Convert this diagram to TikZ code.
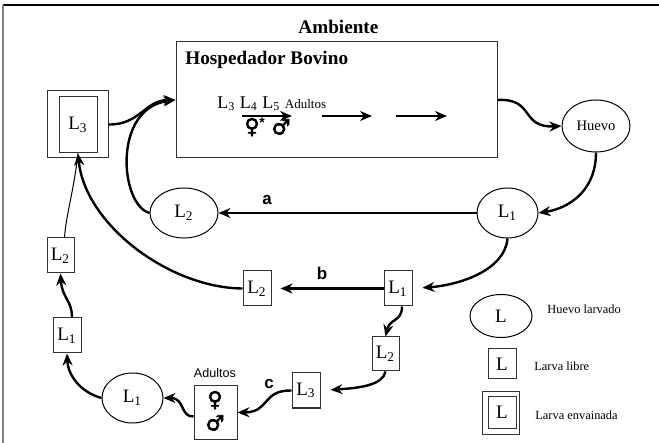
\documentclass[tikz,border=0pt]{standalone}
\usepackage{fontspec}
\setmainfont{Liberation Serif}
\setsansfont{Liberation Sans}
\newfontfamily\symfont[FakeBold=3]{DejaVu Sans}
\usetikzlibrary{shapes.geometric,arrows.meta}
\newcommand{\Lsub}[1]{L\textsubscript{#1}}

\begin{document}
\begin{tikzpicture}[x=0.5pt,y=-0.5pt,
	libre/.style={draw=black!80, line width=0.5pt, rectangle, inner sep=0pt, minimum width=14pt, minimum height=17.5pt, font=\fontsize{9.5}{9.5}\selectfont},
	envaina/.style={draw=black!80, line width=0.5pt, rectangle, inner sep=0pt},
	elipse/.style={draw, line width=0.5pt, ellipse, inner sep=0pt, minimum width=30.5pt, minimum height=25pt, font=\fontsize{9.5}{9.5}\selectfont},
	flecha/.style={line width=1.2pt, -{Stealth[length=6pt,width=5pt]}},
	letra/.style={inner sep=0pt, font=\sffamily\bfseries\fontsize{8.5}{8.5}\selectfont},
	leyenda/.style={anchor=base west, inner sep=0pt, font=\fontsize{6.2}{7}\selectfont},
	sexo/.style={inner sep=0pt, font=\symfont\fontsize{10.5}{10.5}\selectfont}]
	\useasboundingbox (0,0) rectangle (659,443);
	% marco
	\draw [line width=0.6pt] (3,5) -- (659,5);
	\draw [gray, line width=0.8pt] (3,5) -- (3,443);

	% hospedador
	\node (amb) [anchor=base west, inner sep=0pt, font=\bfseries\fontsize{9.6}{10}\selectfont] at (298,34) {Ambiente};
	\node (host) [envaina, minimum width=160.5pt, minimum height=58pt] at (336.5,100) {};
	\node (hosp) [anchor=base west, inner sep=0pt, font=\bfseries\fontsize{9.6}{10}\selectfont] at (185,65) {Hospedador Bovino};
	\node (fases) [anchor=base west, inner sep=0pt, font=\fontsize{9}{9}\selectfont] at (217,109) {\Lsub{3} \Lsub{4} \Lsub{5} {\fontsize{6.5}{7}\selectfont Adultos}};
	\node (hembra) [sexo] at (252,127) {♀};
	\node (ast) [inner sep=0pt, font=\sffamily\bfseries\fontsize{7}{7}\selectfont] at (262,123) {*};
	\node (macho) [sexo] at (281,127) {♂};
	\coordinate (f1) at (242,116);
	\coordinate (f2) at (292,116);
	\coordinate (f3) at (322,116);
	\coordinate (f4) at (372,116);
	\coordinate (f5) at (396,116);
	\coordinate (f6) at (447,116);
	\draw [flecha] (f1) -- (f2);
	\draw [flecha] (f3) -- (f4);
	\draw [flecha] (f5) -- (f6);

	% estadios
	\node (huevo) [elipse, minimum width=34pt, minimum height=26pt, font=\fontsize{7.3}{8}\selectfont] at (596,126) {Huevo};
	\node (l1a) [elipse] at (507.5,213) {\Lsub{1}};
	\node (l2a) [elipse, minimum width=34pt] at (184,213) {\Lsub{2}};
	\node (l3) [envaina, minimum width=30.5pt, minimum height=33.5pt] at (77.5,124.5) {};
	\node (l3in) [libre, minimum width=19pt, minimum height=28pt] at (78,125) {\Lsub{3}};
	\node (l1b) [libre] at (398,288.5) {\Lsub{1}};
	\node (l2b) [libre] at (257,288.5) {\Lsub{2}};
	\node (l2c) [libre, minimum width=13.5pt, minimum height=17pt] at (385.5,354) {\Lsub{2}};
	\node (l3c) [libre] at (306,390.5) {\Lsub{3}};
	\node (adul) [envaina, minimum width=21.5pt, minimum height=26.5pt] at (215.5,412.5) {};
	\node (tadul) [inner sep=0pt, font=\sffamily\fontsize{6.3}{7}\selectfont] at (215,373) {Adultos};
	\node (hembra2) [sexo] at (215,400) {♀};
	\node (macho2) [sexo] at (215,423) {♂};
	\node (l1c) [elipse] at (132.5,398) {\Lsub{1}};
	\node (l1d) [libre] at (67,335.5) {\Lsub{1}};
	\node (l2d) [libre, minimum width=13.5pt] at (60.5,255.5) {\Lsub{2}};

	% ciclo
	\draw [flecha] (host.east) .. controls (535,98) and (520,128) .. (huevo.west);
	\draw [flecha] (huevo.south) .. controls (596,190) and (570,208) .. (l1a.east);
	\draw [flecha] (l1a.west) -- (l2a.east);
	\node (a) [letra] at (267,200) {a};
	\draw [flecha] (l2a.west) .. controls (120,205) and (112,108) .. (host.west);
	\draw [flecha] (l3.east) .. controls (140,125) and (145,100) .. (host.west);
	\draw [flecha, shorten >=5pt] (l1a.south) .. controls (505,270) and (460,285) .. (l1b.east);
	\draw [flecha, shorten >=4.5pt] (l1b.west) -- (l2b.east);
	\node (b) [letra] at (322,273) {b};
	\draw [flecha] (l2b.west) .. controls (170,288) and (85,225) .. (l3in.south);
	\draw [line width=0.5pt] ([xshift=2pt]l2d.north) .. controls (66,215) and (74,190) .. (l3in.south);
	\draw [flecha] ([xshift=2.5pt]l1d.north) .. controls (72,300) and (62,298) .. (l2d.south);
	\draw [flecha] (l1c.west) .. controls (80,392) and (68,375) .. (l1d.south);
	\draw [flecha] ([yshift=-2pt]adul.west) .. controls (180,417) and (185,398) .. (l1c.east);
	\draw [flecha] (l3c.west) .. controls (262,390) and (270,412) .. (adul.east);
	\node (c) [letra] at (269,384) {c};
	\draw [flecha] ([xshift=2pt]l1b.south) .. controls (402,322) and (390,318) .. (l2c.north);
	\draw [flecha, shorten >=5pt] (l2c.south) .. controls (383,385) and (360,388) .. (l3c.east);

	% leyenda
	\node (leyh) [elipse, minimum width=31pt, minimum height=21.5pt] at (501,316) {L};
	\node (tleyh) [leyenda] at (547,314) {Huevo larvado};
	\node (leyl) [libre, minimum height=15pt] at (502,364) {L};
	\node (tleyl) [leyenda] at (534,371) {Larva libre};
	\node (leye) [envaina, minimum width=18.5pt, minimum height=21pt] at (500.5,413) {};
	\node (leyein) [libre, minimum height=15.5pt] at (502,412.5) {L};
	\node (tleye) [leyenda] at (535,420) {Larva envainada};
\end{tikzpicture}
\end{document}
